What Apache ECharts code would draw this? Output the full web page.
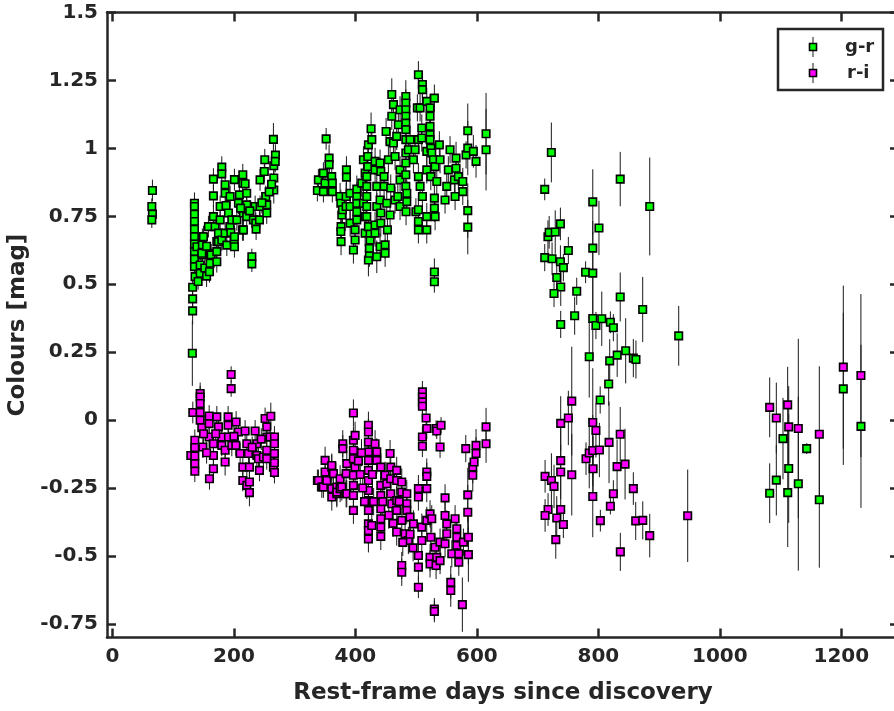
<!DOCTYPE html>
<html>
<head>
<meta charset="utf-8">
<script src="https://cdn.jsdelivr.net/npm/echarts@6/dist/echarts.min.js"></script>
<style>
html,body{margin:0;padding:0;background:#fff;}
#chart{width:894px;height:711px;}
</style>
</head>
<body>
<div id="chart"></div>
<script>
// ---------- data ----------
var seriesNames = ['g-r', 'r-i'];
var xTicks = [0, 200, 400, 600, 800, 1000, 1200];
var xTickLabels = ['0', '200', '400', '600', '800', '1000', '1200'];
var yTicks = [-0.75, -0.5, -0.25, 0, 0.25, 0.5, 0.75, 1, 1.25, 1.5];
var yTickLabels = ['-0.75', '-0.5', '-0.25', '0', '0.25', '0.5', '0.75', '1', '1.25', '1.5'];

var grDays = [
65.8,64.8,65.8,64.8,
135,135,135,135,135,135,135,135,135,135,136,132,132,132,131.5,139,141,144.4,144.4,148,148,148,149.8,147.1,152,155,
158,159.7,160.8,160.8,162.5,166.2,166.2,166.2,169,171.8,171.8,171.8,174.5,174.5,177.3,177.3,180,180,180,185.5,185.5,185.5,
188.3,191,193.7,193.7,194.9,196.5,200.3,200.8,200.8,200.8,204.8,207.4,209,214,214.6,214.6,215.6,215.6,218.4,221,221,221,
229.5,229.5,232,234.9,236,236.5,242,243,243,250,250.8,252.5,254,254,265,268.3,265.6,265.6,265.6,268,262,258,246,226,211,187,155,
337.4,339,347.3,347.3,350,351.8,356.7,356.7,361,362,362,374.8,376,377.6,376.4,376,376.4,378.6,384.7,384.7,385.2,385.2,
391.3,391.3,391.3,396.7,399.5,399.5,402.3,402.3,402.3,402.3,402.3,410.5,413.2,413.2,416,416,416,418.7,418.7,418.7,418.7,418.7,
420.4,420.4,421.4,421.4,423,423,424.2,424.2,421.4,425.8,427,432.4,432.4,432.4,432.4,435.2,435.2,435.2,440.6,440.6,440.6,
441.8,441.8,441.8,447.2,447.2,448.9,448.9,450.5,451.6,452.7,454.3,457.1,457.1,458.2,459.9,459.9,462.6,462.6,465.3,465.3,
468,469.8,470.7,473.5,473.5,473.5,473.5,483,483,483,483,483,483,483,483,483,483,483,484.6,484.6,483.4,487.2,490,495.5,498.3,
499.6,502,503.7,503.7,503.7,503.7,503.7,503.7,506.5,506.5,509.3,509.3,510.3,510.3,510.3,517.5,517.5,517.5,517.5,517.5,
522.9,522.9,522.9,522.9,522.9,524.1,524.1,525.7,528.4,530,530,530,530,530,531.2,531.2,534,538.2,539.4,547.6,550.4,553,555.8,
563,564.1,565.7,565.7,569.5,576.8,576.8,582.2,585,585,585,585,594.2,598.6,615.1,615.1,
711.7,722.6,717,719,729,737.5,711.7,723.8,737.5,742.4,750.6,731.5,738.1,727,738,764.4,761,790.8,801,790.8,779,790.8,836,884.6,
790.8,796,805.6,819.8,824.7,836,873,785,818.7,831,845,857.6,861.9,817,932.3,803,
1082.1,1093,1104,1111.8,1113.4,1129.2,1143,1163.8,1203.3,1232.4
];
var grColour = [
0.845,0.786,0.758,0.737,
0.798,0.786,0.758,0.731,0.703,0.675,0.648,0.62,0.592,0.565,0.528,0.489,0.446,0.402,0.246,0.638,0.51,0.54,0.571,0.608,0.645,0.675,0.675,0.614,0.56,0.53,
0.712,0.546,0.614,0.577,0.608,0.887,0.825,0.749,0.712,0.657,0.62,0.583,0.688,0.657,0.737,0.786,0.931,0.906,0.663,0.866,0.835,0.688,
0.644,0.762,0.823,0.712,0.69,0.737,0.663,0.885,0.675,0.638,0.737,0.798,0.829,0.70,0.903,0.872,0.762,0.70,0.87,0.835,0.792,0.749,
0.601,0.575,0.737,0.786,0.725,0.703,0.737,0.884,0.786,0.915,0.958,0.823,0.792,0.762,1.033,0.975,0.936,0.891,0.847,0.952,0.868,0.84,0.80,0.77,0.78,0.79,0.64,
0.845,0.884,0.909,0.841,0.872,1.035,0.964,0.94,0.896,0.872,0.841,0.823,0.798,0.755,0.712,0.694,0.657,0.774,0.823,0.786,0.921,0.894,
0.835,0.786,0.725,0.626,0.663,0.70,0.737,0.767,0.798,0.825,0.85,0.872,0.958,0.798,0.909,0.749,0.688,0.749,0.786,0.823,0.86,0.896,
0.933,0.97,1.013,0.589,0.614,0.632,0.663,0.688,0.712,1.072,1.032,0.952,0.921,0.688,0.718,0.86,0.786,0.601,0.946,0.81,0.638,
0.915,0.762,0.725,0.896,0.86,0.645,0.614,1.062,0.798,0.70,0.958,1.025,0.755,0.854,1.198,1.118,1.161,1.02,0.97,0.81,
1.044,0.823,1.087,1.142,0.921,0.884,0.786,1.191,1.167,1.142,1.118,1.093,1.069,1.032,0.983,0.946,0.903,0.86,0.835,0.804,0.767,0.995,1.032,0.958,0.995,
0.767,1.149,1.271,1.032,0.896,0.774,0.731,0.70,1.149,0.86,1.075,1.038,1.235,1.216,0.823,1.173,0.989,0.921,0.749,0.70,
1.149,1.118,1.081,1.05,1.032,1.001,0.896,0.983,0.958,1.185,0.817,0.78,0.545,0.509,0.933,0.749,0.878,1.013,0.958,0.81,0.86,0.921,0.995,
0.884,0.823,0.964,0.927,0.896,0.878,0.841,0.976,1.065,1.001,0.771,0.71,0.989,0.952,1.054,0.995,
0.849,0.985,0.675,0.691,0.692,0.722,0.598,0.594,0.583,0.561,0.624,0.525,0.49,0.466,0.352,0.474,0.384,0.803,0.707,0.633,0.544,0.541,0.887,0.786,
0.374,0.348,0.373,0.36,0.34,0.453,0.407,0.233,0.218,0.239,0.255,0.228,0.223,0.133,0.31,0.074,
-0.269,-0.221,-0.068,-0.267,-0.178,-0.234,-0.105,-0.293,0.115,-0.023
];
var grErr = [
0.04,0.03,0.03,0.03,
0.04,0.03,0.03,0.03,0.03,0.03,0.03,0.03,0.03,0.03,0.03,0.04,0.04,0.05,0.12,0.03,0.03,0.04,0.03,0.03,0.03,0.03,0.04,0.04,0.03,0.04,
0.04,0.04,0.04,0.04,0.04,0.04,0.04,0.04,0.04,0.04,0.04,0.04,0.04,0.04,0.04,0.04,0.04,0.04,0.04,0.04,0.04,0.04,
0.04,0.04,0.04,0.04,0.04,0.04,0.04,0.04,0.04,0.04,0.04,0.04,0.04,0.04,0.04,0.04,0.04,0.04,0.04,0.04,0.04,0.04,
0.03,0.03,0.04,0.04,0.04,0.04,0.04,0.04,0.04,0.04,0.04,0.04,0.04,0.04,0.06,0.04,0.04,0.04,0.05,0.04,0.04,0.04,0.04,0.04,0.04,0.04,0.04,
0.04,0.04,0.04,0.04,0.04,0.04,0.05,0.04,0.04,0.04,0.04,0.05,0.05,0.05,0.05,0.05,0.05,0.05,0.05,0.05,0.05,0.05,
0.05,0.05,0.05,0.05,0.05,0.05,0.05,0.05,0.05,0.05,0.05,0.05,0.05,0.05,0.05,0.05,0.05,0.05,0.05,0.05,0.05,0.05,
0.05,0.05,0.05,0.06,0.05,0.05,0.05,0.05,0.05,0.06,0.05,0.05,0.05,0.05,0.05,0.05,0.05,0.06,0.05,0.05,0.05,
0.05,0.05,0.05,0.05,0.05,0.05,0.05,0.05,0.05,0.05,0.05,0.05,0.05,0.05,0.06,0.05,0.05,0.05,0.05,0.05,
0.05,0.05,0.05,0.05,0.05,0.05,0.05,0.06,0.05,0.05,0.05,0.05,0.05,0.05,0.05,0.05,0.05,0.05,0.05,0.05,0.05,0.05,0.05,0.05,0.05,
0.05,0.05,0.05,0.05,0.05,0.05,0.05,0.05,0.05,0.05,0.05,0.05,0.05,0.05,0.05,0.05,0.05,0.05,0.05,0.05,
0.05,0.05,0.05,0.05,0.05,0.05,0.05,0.05,0.05,0.05,0.05,0.05,0.05,0.04,0.05,0.05,0.05,0.05,0.05,0.05,0.05,0.05,0.05,
0.05,0.05,0.06,0.05,0.05,0.05,0.05,0.05,0.1,0.1,0.1,0.1,0.06,0.06,0.15,0.15,
0.04,0.11,0.06,0.06,0.08,0.06,0.05,0.06,0.06,0.05,0.05,0.06,0.07,0.05,0.05,0.05,0.07,0.12,0.1,0.1,0.04,0.15,0.1,0.18,
0.15,0.05,0.1,0.04,0.05,0.09,0.12,0.15,0.08,0.08,0.12,0.07,0.07,0.08,0.11,0.05,
0.11,0.13,0.15,0.2,0.2,0.32,0.02,0.25,0.28,0.3
];

var riDays = [
132.3,129,135.6,135.6,135.6,135.6,135.6,144.4,144.4,144.4,144.4,144.4,147.1,148.8,159.2,159.2,159.2,159.7,166.2,166.2,166.2,
171.8,174.5,180,180,185.5,185.5,190.4,190.4,191,195.4,195.4,196.5,203.6,207.4,203.1,210.2,214.6,214.6,218.4,221.2,221.2,223.9,
225.5,225.5,225.5,234.9,237.7,237.7,240.3,242,248.5,251.3,254,254,254,254,259.6,260.7,265,266.7,266.7,266.7,266.7,266.7,
150,155,170,200,230,245,
337.4,339.1,344.7,347.3,350.1,350.1,352.9,361.1,361,361.1,361.1,363.8,369.4,369.4,369.4,374.8,374.8,377.6,379.2,379.2,
384.7,384.7,385.8,385.8,396.7,396.7,396.7,396.7,396.7,396.7,396.7,396.7,399.5,399.5,
421.4,421.4,421.4,421.4,421.4,421.4,421.4,421.4,421.4,421.4,421.4,421.4,421.4,427,432.4,435.2,435.2,
441.8,441.8,441.8,441.8,441.8,441.8,441.8,448.9,451.6,457.1,458.2,458.2,458.2,459.9,468,468,468,468,468,
476.3,476.3,476.3,476.3,476.3,481.8,484.6,484.6,484.6,487.2,490,495.5,503.7,503.7,503.7,503.7,503.7,509.3,509.3,
510.3,510.3,510.3,510.3,510.3,510.3,516.4,517.5,517.5,517.5,517.5,517.5,522.9,525.7,524.1,522.9,522.9,531.2,532.8,533.9,
539.4,539.4,530,530,532.8,533.9,541,539.4,547.6,547.6,550.4,550.4,547.6,558.7,557,557,564.1,566.9,566.9,566.9,570.2,570.2,
577.8,576.1,581.7,585,585,586,586,593.2,593.2,595.4,598.6,598.6,615.1,615.1,
405,408,410,412,415,428,430,445,455,462,472,478,490,495,
712.3,722.7,727,738,750.6,756.2,738,738,756.2,717.2,712.3,731.5,738,742.4,729.9,779.7,785,790.8,801.7,790.8,796,791.3,
817.6,836,830.8,844,857.6,790.8,824.7,819.8,803.3,861.5,873.1,884.6,836.2,947.1,
1082.1,1093,1111.7,1113.4,1129.2,1163.8,1203.3,1232.3
];
var riColour = [
0.028,-0.13,-0.074,-0.101,-0.132,-0.16,-0.188,0.098,0.085,0.061,0.028,0.0,-0.028,-0.099,0.015,-0.013,-0.062,-0.216,-0.179,-0.13,-0.087,
0.012,-0.025,-0.062,-0.093,-0.111,-0.154,0.012,-0.019,-0.062,0.168,0.116,-0.093,-0.007,-0.044,-0.093,-0.123,-0.173,-0.222,-0.04,-0.24,-0.087,-0.123,
-0.267,-0.228,-0.173,-0.04,-0.087,-0.13,-0.142,-0.185,-0.136,0.006,-0.025,-0.062,-0.111,-0.142,-0.062,0.014,-0.173,-0.062,-0.087,-0.123,-0.157,-0.193,
-0.05,-0.12,-0.05,-0.06,-0.10,-0.07,
-0.222,-0.222,-0.246,-0.246,-0.148,-0.191,-0.222,-0.173,-0.167,-0.252,-0.283,-0.197,-0.246,-0.271,-0.265,-0.216,-0.252,-0.246,-0.087,-0.105,
-0.197,-0.271,-0.16,-0.271,0.026,-0.074,-0.111,-0.142,-0.203,-0.24,-0.277,-0.332,-0.056,-0.173,
-0.019,-0.044,-0.081,-0.117,-0.148,-0.185,-0.222,-0.259,-0.296,-0.332,-0.382,-0.406,-0.437,-0.388,-0.087,-0.117,-0.148,
-0.173,-0.24,-0.277,-0.326,-0.363,-0.394,-0.428,-0.203,-0.234,-0.123,-0.173,-0.216,-0.271,-0.308,-0.185,-0.222,-0.296,-0.332,-0.412,
-0.228,-0.265,-0.369,-0.535,-0.56,-0.418,-0.271,-0.308,-0.332,-0.443,-0.357,-0.382,-0.615,-0.541,-0.498,-0.252,-0.283,-0.394,-0.443,
0.104,0.085,0.067,0.051,-0.062,-0.096,0.008,-0.031,-0.191,-0.207,-0.252,-0.369,-0.345,-0.363,-0.431,-0.505,-0.529,-0.468,-0.535,-0.505,
-0.517,-0.449,-0.695,-0.704,-0.031,-0.04,-0.019,-0.099,-0.286,-0.351,-0.382,-0.418,-0.455,-0.492,-0.597,-0.627,-0.363,-0.4,-0.431,-0.461,-0.492,-0.523,
-0.449,-0.679,-0.105,-0.275,-0.339,-0.431,-0.495,-0.173,-0.203,-0.154,-0.093,-0.123,-0.025,-0.087,
-0.15,-0.2,-0.12,-0.25,-0.30,-0.2,-0.3,-0.3,-0.35,-0.38,-0.3,-0.45,-0.42,-0.47,
-0.207,-0.222,-0.244,-0.012,0.008,0.07,-0.149,-0.191,-0.201,-0.329,-0.351,-0.36,-0.329,-0.384,-0.44,-0.142,-0.121,-0.112,-0.11,-0.009,-0.038,-0.179,
-0.082,-0.052,-0.171,-0.162,-0.252,-0.281,-0.271,-0.317,-0.37,-0.371,-0.369,-0.425,-0.485,-0.352,
0.047,0.008,0.056,-0.025,-0.031,-0.052,0.195,0.164
];
var riErr = [
0.04,0.04,0.04,0.04,0.04,0.04,0.04,0.04,0.04,0.04,0.04,0.04,0.04,0.04,0.04,0.04,0.04,0.04,0.04,0.04,0.04,
0.04,0.04,0.04,0.04,0.04,0.05,0.04,0.04,0.04,0.03,0.03,0.04,0.04,0.04,0.04,0.04,0.04,0.04,0.04,0.05,0.04,0.04,
0.05,0.04,0.04,0.04,0.04,0.04,0.04,0.04,0.04,0.04,0.04,0.04,0.04,0.04,0.04,0.05,0.04,0.04,0.04,0.04,0.04,0.04,
0.04,0.04,0.04,0.04,0.04,0.04,
0.04,0.04,0.04,0.04,0.05,0.04,0.04,0.05,0.04,0.05,0.05,0.04,0.05,0.05,0.05,0.05,0.05,0.05,0.05,0.05,
0.05,0.05,0.05,0.05,0.05,0.05,0.05,0.05,0.05,0.05,0.05,0.05,0.05,0.05,
0.05,0.05,0.05,0.05,0.05,0.05,0.05,0.05,0.05,0.05,0.05,0.05,0.05,0.05,0.05,0.05,0.05,
0.05,0.05,0.05,0.05,0.05,0.05,0.05,0.05,0.05,0.05,0.05,0.05,0.05,0.05,0.05,0.05,0.05,0.05,0.05,
0.05,0.05,0.05,0.05,0.05,0.05,0.05,0.05,0.05,0.05,0.05,0.05,0.04,0.05,0.05,0.05,0.05,0.05,0.05,
0.04,0.04,0.04,0.04,0.04,0.04,0.04,0.04,0.05,0.05,0.05,0.05,0.05,0.05,0.05,0.05,0.05,0.05,0.05,0.05,
0.05,0.05,0.04,0.04,0.03,0.03,0.03,0.04,0.05,0.05,0.05,0.05,0.05,0.05,0.06,0.06,0.05,0.05,0.05,0.05,0.05,0.05,
0.05,0.1,0.05,0.1,0.1,0.1,0.1,0.06,0.06,0.06,0.06,0.06,0.07,0.07,
0.05,0.05,0.05,0.05,0.05,0.05,0.05,0.05,0.05,0.05,0.05,0.05,0.05,0.05,
0.06,0.1,0.08,0.1,0.1,0.2,0.12,0.1,0.15,0.06,0.06,0.08,0.06,0.05,0.07,0.06,0.13,0.13,0.1,0.2,0.1,0.12,
0.15,0.1,0.1,0.13,0.06,0.15,0.05,0.03,0.04,0.07,0.07,0.08,0.07,0.17,
0.11,0.13,0.14,0.15,0.33,0.25,0.3,0.3
];

// ---------- build ----------
function zip3(a, b, c) {
  var out = [];
  for (var i = 0; i < a.length; i++) out.push([a[i], b[i], c[i]]);
  return out;
}
var grData = zip3(grDays, grColour, grErr);
var riData = zip3(riDays, riColour, riErr);

var FONT = 'DejaVu Sans';
var AX = '#262626';
var GREEN = '#00ff00';
var MAGENTA = '#ff00ff';

function errRender(params, api) {
  var x = api.value(0), y = api.value(1), e = api.value(2);
  var p1 = api.coord([x, y + e]);
  var p2 = api.coord([x, y - e]);
  return {
    type: 'line',
    shape: { x1: p1[0], y1: p1[1], x2: p2[0], y2: p2[1] },
    style: { stroke: '#1a1a1a', lineWidth: 1 }
  };
}
function lookup(ticks, labels) {
  return function (v) {
    for (var i = 0; i < ticks.length; i++) if (Math.abs(ticks[i] - v) < 1e-6) return labels[i];
    return '';
  };
}

var axisLineStyle = { show: true, onZero: false, lineStyle: { color: AX, width: 2.5 } };
var tickLine = { color: AX, width: 2.5 };

var chart = echarts.init(document.getElementById('chart'), null, { renderer: 'canvas' });
var option = {
  backgroundColor: '#ffffff',
  animation: false,
  grid: { left: 107, top: 12.5, width: 792, height: 625, containLabel: false, outerBoundsMode: 'none' },
  xAxis: [
    {
      type: 'value', position: 'bottom', min: -9, max: 1295,
      axisLine: axisLineStyle,
      axisTick: { show: true, inside: true, length: 9, customValues: xTicks, lineStyle: tickLine },
      axisLabel: { show: true, customValues: xTicks, formatter: lookup(xTicks, xTickLabels), margin: 9, color: AX, fontFamily: FONT, fontWeight: 'bold', fontSize: 20 },
      splitLine: { show: false },
      name: 'Rest-frame days since discovery', nameLocation: 'middle', nameGap: 44,
      nameTextStyle: { color: AX, fontFamily: FONT, fontWeight: 'bold', fontSize: 23 }
    },
    {
      type: 'value', position: 'top', min: -9, max: 1295,
      axisLine: axisLineStyle,
      axisTick: { show: true, inside: true, length: 9, customValues: xTicks, lineStyle: tickLine },
      axisLabel: { show: false },
      splitLine: { show: false }
    }
  ],
  yAxis: [
    {
      type: 'value', position: 'left', min: -0.8, max: 1.5,
      axisLine: axisLineStyle,
      axisTick: { show: true, inside: true, length: 9, customValues: yTicks, lineStyle: tickLine },
      axisLabel: { show: true, customValues: yTicks, formatter: lookup(yTicks, yTickLabels), margin: 9, color: AX, fontFamily: FONT, fontWeight: 'bold', fontSize: 20 },
      splitLine: { show: false },
      name: 'Colours [mag]', nameLocation: 'middle', nameGap: 76, nameRotate: 90,
      nameTextStyle: { color: AX, fontFamily: FONT, fontWeight: 'bold', fontSize: 23 }
    },
    {
      type: 'value', position: 'right', min: -0.8, max: 1.5,
      axisLine: axisLineStyle,
      axisTick: { show: true, inside: true, length: 9, customValues: yTicks, lineStyle: tickLine },
      axisLabel: { show: false },
      splitLine: { show: false }
    }
  ],
  series: [
    {
      name: seriesNames[0] + ' err', type: 'custom', xAxisIndex: 0, yAxisIndex: 0,
      renderItem: errRender, data: grData, encode: { x: 0, y: 1 }, clip: true, silent: true
    },
    {
      name: seriesNames[0], type: 'scatter', xAxisIndex: 0, yAxisIndex: 0,
      data: grData.map(function (d) { return [d[0], d[1]]; }),
      symbol: 'rect', symbolSize: 7.5,
      itemStyle: { color: GREEN, borderColor: '#000', borderWidth: 1.6, opacity: 1 }
    },
    {
      name: seriesNames[1] + ' err', type: 'custom', xAxisIndex: 0, yAxisIndex: 0,
      renderItem: errRender, data: riData, encode: { x: 0, y: 1 }, clip: true, silent: true
    },
    {
      name: seriesNames[1], type: 'scatter', xAxisIndex: 0, yAxisIndex: 0,
      data: riData.map(function (d) { return [d[0], d[1]]; }),
      symbol: 'rect', symbolSize: 7.5,
      itemStyle: { color: MAGENTA, borderColor: '#000', borderWidth: 1.6, opacity: 1 }
    }
  ],
  graphic: [
    { type: 'rect', shape: { x: 778, y: 29, width: 105, height: 61 }, style: { fill: '#fff', stroke: AX, lineWidth: 2.5 }, z: 100 },
    { type: 'line', shape: { x1: 813, y1: 37, x2: 813, y2: 57 }, style: { stroke: '#1a1a1a', lineWidth: 1 }, z: 101 },
    { type: 'rect', shape: { x: 809.5, y: 43.5, width: 7, height: 7 }, style: { fill: GREEN, stroke: '#000', lineWidth: 1.6 }, z: 102 },
    { type: 'line', shape: { x1: 813, y1: 63, x2: 813, y2: 83 }, style: { stroke: '#1a1a1a', lineWidth: 1 }, z: 101 },
    { type: 'rect', shape: { x: 809.5, y: 69.5, width: 7, height: 7 }, style: { fill: MAGENTA, stroke: '#000', lineWidth: 1.6 }, z: 102 },
    { type: 'text', x: 845, y: 47, style: { text: seriesNames[0], fill: AX, font: 'bold 18px "DejaVu Sans"', textVerticalAlign: 'middle', verticalAlign: 'middle' }, z: 102 },
    { type: 'text', x: 847, y: 73, style: { text: seriesNames[1], fill: AX, font: 'bold 18px "DejaVu Sans"', textVerticalAlign: 'middle', verticalAlign: 'middle' }, z: 102 }
  ]
};
chart.setOption(option);
</script>
</body>
</html>
